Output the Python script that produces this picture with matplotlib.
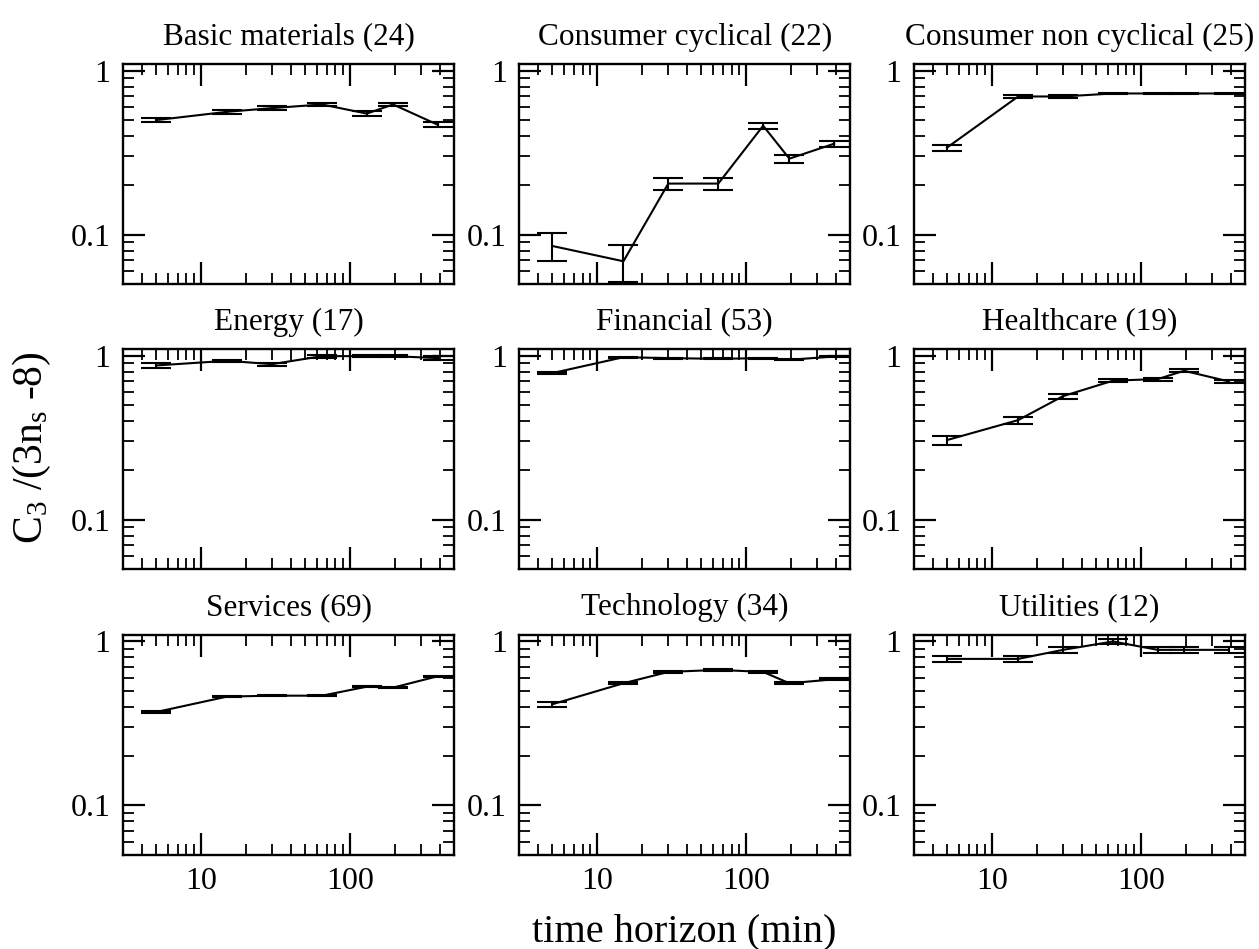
import matplotlib
matplotlib.use("Agg")
import matplotlib.pyplot as plt
from matplotlib.ticker import LogLocator, NullFormatter, FixedLocator, FixedFormatter

plt.rcParams['font.family'] = ['Liberation Serif', 'DejaVu Serif']
plt.rcParams['mathtext.fontset'] = 'custom'
plt.rcParams['mathtext.rm'] = 'Liberation Serif'
plt.rcParams['mathtext.default'] = 'regular'

horizons = [5, 15, 30, 65, 130, 195, 390]

sectors = ["Basic materials (24)", "Consumer cyclical (22)", "Consumer non cyclical (25)",
           "Energy (17)", "Financial (53)", "Healthcare (19)",
           "Services (69)", "Technology (34)", "Utilities (12)"]

basic_vals = [0.50, 0.562, 0.592, 0.623, 0.548, 0.623, 0.468]
basic_err = [0.015, 0.017, 0.015, 0.014, 0.017, 0.015, 0.016]
cyc_vals = [0.0853, 0.0688, 0.205, 0.205, 0.462, 0.291, 0.359]
cyc_err = [0.0165, 0.0172, 0.017, 0.017, 0.02, 0.017, 0.016]
noncyc_vals = [0.340, 0.697, 0.697, 0.727, 0.727, 0.727, 0.727]
noncyc_err = [0.014, 0.012, 0.010, 0.006, 0.006, 0.006, 0.006]
energy_vals = [0.873, 0.932, 0.889, 0.995, 0.995, 0.995, 0.968]
energy_err = [0.025, 0.012, 0.02, 0.02, 0.012, 0.012, 0.022]
fin_vals = [0.784, 0.98, 0.968, 0.958, 0.968, 0.945, 0.99]
fin_err = [0.010, 0.008, 0.008, 0.008, 0.008, 0.008, 0.012]
health_vals = [0.306, 0.405, 0.567, 0.705, 0.721, 0.81, 0.697]
health_err = [0.02, 0.02, 0.021, 0.015, 0.015, 0.015, 0.015]
serv_vals = [0.371, 0.461, 0.467, 0.467, 0.530, 0.523, 0.614]
serv_err = [0.005, 0.005, 0.005, 0.005, 0.005, 0.005, 0.006]
tech_vals = [0.414, 0.556, 0.652, 0.671, 0.652, 0.556, 0.588]
tech_err = [0.013, 0.008, 0.008, 0.008, 0.008, 0.008, 0.008]
util_vals = [0.783, 0.783, 0.889, 1.0, 0.889, 0.889, 0.889]
util_err = [0.033, 0.03, 0.035, 0.03, 0.035, 0.035, 0.035]

values = [basic_vals, cyc_vals, noncyc_vals, energy_vals, fin_vals, health_vals,
          serv_vals, tech_vals, util_vals]
errors = [basic_err, cyc_err, noncyc_err, energy_err, fin_err, health_err,
          serv_err, tech_err, util_err]

W, H = 1259, 949
fig = plt.figure(figsize=(W / 100, H / 100), dpi=100)

col_left = [123, 519.3, 914]
row_top = [64, 349, 634.7]
aw, ah = 331, 220

for i in range(9):
    r, c = divmod(i, 3)
    ax = fig.add_axes([col_left[c] / W, 1 - (row_top[r] + ah) / H, aw / W, ah / H])
    ax.errorbar(horizons, values[i], yerr=errors[i], color='black', lw=1.5,
                elinewidth=1.5, capsize=11, capthick=1.5)
    ax.set_xscale('log')
    ax.set_yscale('log')
    ax.set_xlim(3, 500)
    ax.set_ylim(0.05, 1.1)
    ax.xaxis.set_major_locator(FixedLocator([10, 100]))
    ax.xaxis.set_minor_locator(LogLocator(base=10, subs=[2, 3, 4, 5, 6, 7, 8, 9]))
    ax.yaxis.set_major_locator(FixedLocator([0.1, 1]))
    ax.yaxis.set_major_formatter(FixedFormatter(['0.1', '1']))
    ax.yaxis.set_minor_locator(LogLocator(base=10, subs=[2, 3, 4, 5, 6, 7, 8, 9]))
    ax.xaxis.set_minor_formatter(NullFormatter())
    ax.yaxis.set_minor_formatter(NullFormatter())
    if r == 2:
        ax.xaxis.set_major_formatter(FixedFormatter(['10', '100']))
    else:
        ax.xaxis.set_major_formatter(NullFormatter())
    ax.tick_params(which='both', direction='in', top=True, right=True)
    ax.tick_params(which='major', length=16, width=1.6, labelsize=23, pad=9)
    ax.tick_params(which='minor', length=8, width=1.3)
    for s in ax.spines.values():
        s.set_linewidth(1.7)
    ax.set_title(sectors[i], fontsize=22.5, pad=14)

fig.text(684 / W, 1 - 941 / H, "time horizon (min)", fontsize=29,
         ha='center', va='baseline')
fig.text(32 / W, 1 - 448 / H, r"C$_3$ /(3n$_s$ -8)", fontsize=30,
         ha='center', va='center', rotation=90)

fig.savefig("out.png", dpi=100)
